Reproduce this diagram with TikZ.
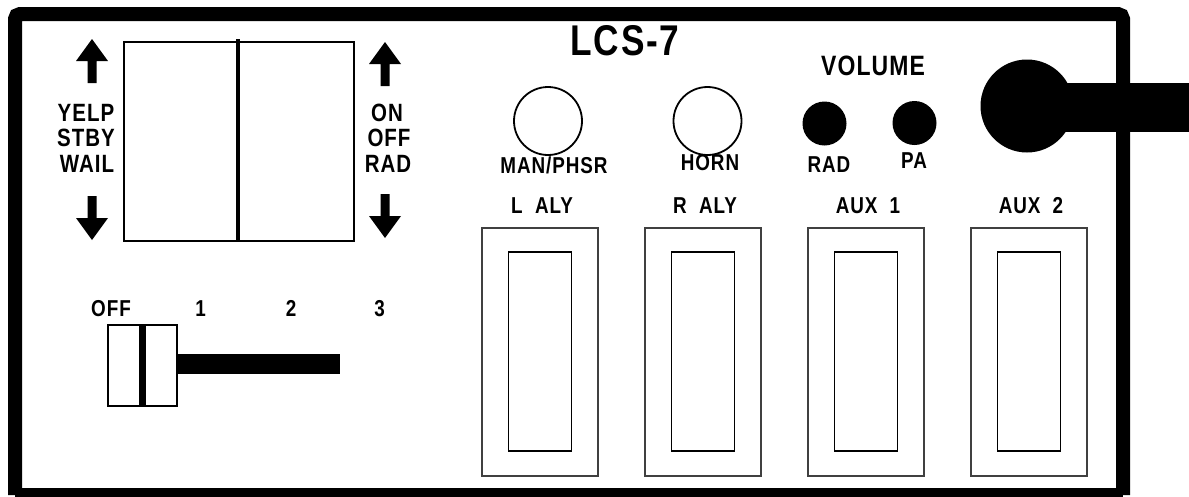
\documentclass[tikz,border=0pt]{standalone}
\usepackage{fontspec}
\newfontfamily\pf{Liberation Sans}[FakeStretch=0.82,LetterSpace=4]
\tikzset{
  lbl/.style={inner sep=0pt, anchor=base, font=\pf\bfseries\fontsize{23}{23}\selectfont},
  big/.style={lbl, font=\pf\bfseries\fontsize{43}{43}\selectfont},
  vol/.style={lbl, font=\pf\bfseries\fontsize{28}{28}\selectfont},
  side/.style={lbl, font=\pf\bfseries\fontsize{25}{25}\selectfont},
  outerbox/.style={draw=black!75, line width=1.6pt},
  innerbox/.style={draw=black, line width=1.8pt},
  knob/.style={circle, draw=black, line width=1.8pt, inner sep=0pt, minimum size=68pt},
  volknob/.style={circle, fill=black, inner sep=0pt, minimum size=44pt},
}
\begin{document}
\begin{tikzpicture}[x=1pt,y=-1pt]
\useasboundingbox (0,0) rectangle (1189,496);
\fill[white] (0,0) rectangle (1189,496);
% frame
\draw[line width=14pt, rounded corners=5pt] (15,495) -- (15,14) -- (1123,14) -- (1123,495);
\draw[line width=14pt] (1123,495) -- (15,495);
% big knob and cable
\node[circle, fill=black, inner sep=0pt, minimum size=93pt] (bigknob) at (1027,106) {};
\fill (1027,83) rectangle (1189,132);
% title
\node[big] (title) at (625,55) {LCS-7};
% two-way switch
\draw[line width=1.6pt] (124,42) rectangle (354,241);
\draw[line width=4pt] (238,39) -- (238,241);
% arrows
\fill (92,39) -- (108,61) -- (96.5,61) -- (96.5,83) -- (87.5,83) -- (87.5,61) -- (76,61) -- cycle;
\fill (92,240) -- (108,218) -- (96.5,218) -- (96.5,196) -- (87.5,196) -- (87.5,218) -- (76,218) -- cycle;
\fill (385,42) -- (401,64) -- (389.5,64) -- (389.5,86) -- (380.5,86) -- (380.5,64) -- (369,64) -- cycle;
\fill (385,238) -- (401,216) -- (389.5,216) -- (389.5,194) -- (380.5,194) -- (380.5,216) -- (369,216) -- cycle;
\node[side] (yelp) at (86,121) {YELP};
\node[side] (stby) at (86,146) {STBY};
\node[side] (wail) at (87,172) {WAIL};
\node[side] (on) at (387,121) {ON};
\node[side] (off) at (389,146) {OFF};
\node[side] (rad) at (388,172) {RAD};
% knobs
\node[knob] (man) at (548,121) {};
\node[knob] (horn) at (707.5,121) {};
\node[lbl] (manl) at (554,173) {MAN/PHSR};
\node[lbl] (hornl) at (710,170) {HORN};
\node[vol] (volume) at (873,75) {VOLUME};
\node[volknob] (radk) at (824.5,123.5) {};
\node[volknob] (pak) at (914.5,123) {};
\node[lbl] (radl) at (829,172) {RAD};
\node[lbl] (pal) at (914,168) {PA};
% rocker switches
\foreach \cx/\name/\txt in {540/laly/L\ \ ALY, 703/raly/R\ \ ALY, 866/aux1/AUX\ \ 1, 1029/aux2/AUX\ \ 2}{
  \node[lbl] (\name-l) at (\cx+2,213) {\txt};
  \draw[outerbox] (\cx-58,228) rectangle (\cx+58,476);
  \draw[innerbox] (\cx-31.5,252) rectangle (\cx+31.5,451);
}
% slider
\node[lbl] (offl) at (111,316) {OFF};
\node[lbl] (one) at (200.5,316) {1};
\node[lbl] (two) at (291,316) {2};
\node[lbl] (three) at (379.5,316) {3};
\draw[line width=1.6pt] (108,325) rectangle (177,406);
\fill (138.5,325) rectangle (146,406);
\fill (177,353.5) rectangle (340,373.5);
\end{tikzpicture}
\end{document}
